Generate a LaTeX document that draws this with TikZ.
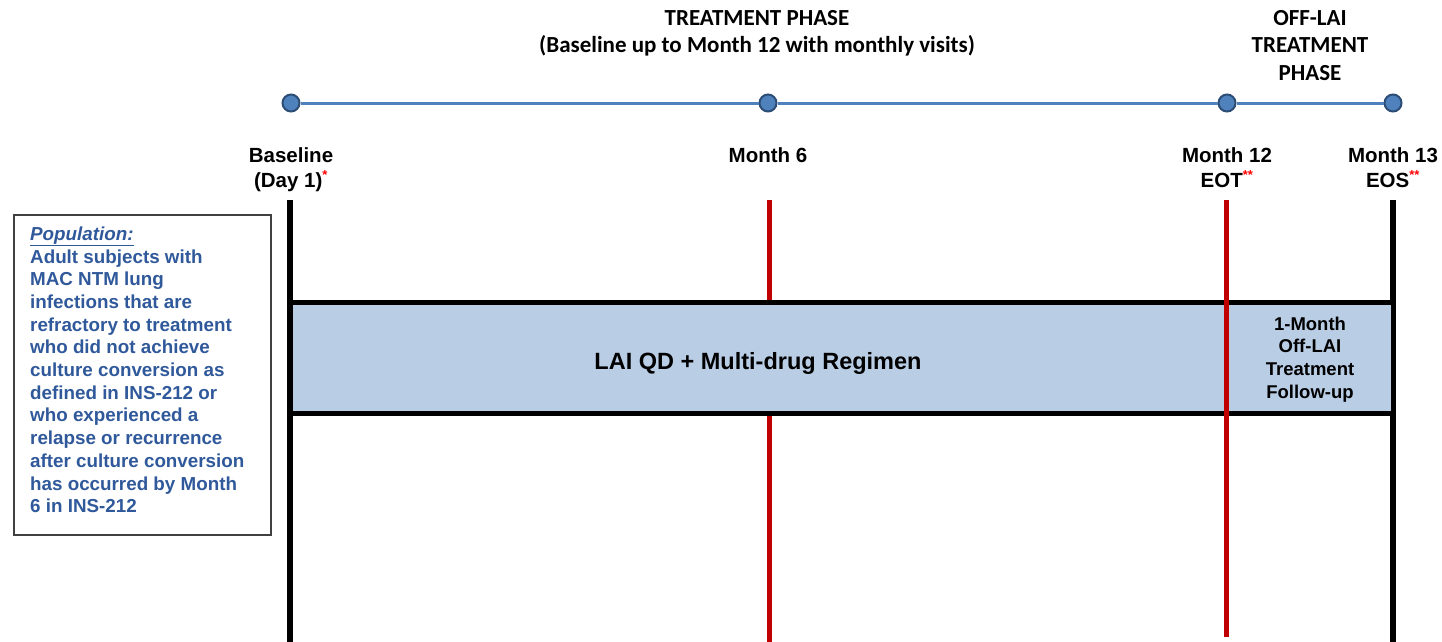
\documentclass[tikz,border=0pt]{standalone}
\usepackage{fontspec}
\setmainfont{Liberation Sans}
\newfontfamily\calibri{Carlito}
\usetikzlibrary{calc,positioning}
\definecolor{garisbiru}{HTML}{4F81BD}
\definecolor{tepibiru}{HTML}{2C4D75}
\definecolor{isibiru}{HTML}{B9CDE5}
\definecolor{teksbiru}{HTML}{30599B}
\definecolor{merah}{HTML}{C00000}
\newcommand{\bintang}[1]{\textsuperscript{\textcolor{red}{\fontsize{13}{13}\selectfont #1}}}
\newcommand{\tonggak}[3]
	{
	\draw[line width=#3,#2] (#1) -- ++(0,442);
	}

\begin{document}
\begin{tikzpicture}[x=1pt,y=-1pt,
	titik/.style={circle,draw=tepibiru,fill=garisbiru,line width=2pt,minimum size=17pt,inner sep=0pt},
	judul/.style={font=\calibri\bfseries\fontsize{23}{27.5}\selectfont,align=center,inner sep=0pt,anchor=north},
	waktu/.style={font=\bfseries\fontsize{20.5}{25}\selectfont,align=center,inner sep=0pt,anchor=north},
	isi/.style={font=\bfseries\fontsize{18.5}{22.7}\selectfont,align=center,inner sep=0pt,anchor=north}]

\useasboundingbox[fill=white] (0,0) rectangle (1442,642);

% judul fase
\node[judul] (fase) at (757,10) {TREATMENT PHASE\\(Baseline up to Month 12 with monthly visits)};
\node[judul] (faseoff) at (1310,10) {OFF-LAI\\TREATMENT\\PHASE};

% garis waktu
\node[titik] (tB) at (291,103) {};
\node[titik] (tM6) at (768,103) {};
\node[titik] (tM12) at (1227,103) {};
\node[titik] (tM13) at (1393,103) {};
\draw[garisbiru,line width=3pt] (tB) -- (tM6) -- (tM12) -- (tM13);

% nama kunjungan
\node[waktu] (nB) at (291,147) {Baseline\\(Day 1)\bintang{*}};
\node[waktu] (nM6) at (768,147) {Month 6};
\node[waktu] (nM12) at (1227,147) {Month 12\\EOT\bintang{**}};
\node[waktu] (nM13) at (1393,147) {Month 13\\EOS\bintang{**}};

% garis tegak
\coordinate (gB) at (290,200);
\coordinate (gM6) at (769,200);
\coordinate (gM12) at (1226,200);
\coordinate (gM13) at (1393,200);
\tonggak{gB}{black}{6pt}
\tonggak{gM6}{merah}{5pt}
\tonggak{gM13}{black}{6pt}

% pita pengobatan
\draw[line width=5pt,fill=isibiru] (290,302) rectangle (1393,413);
\draw[merah,line width=5pt] (gM12) -- ++(0,437);
\node[font=\bfseries\fontsize{23.5}{28}\selectfont,anchor=base] (rejimen) at (758,369) {LAI QD + Multi-drug Regimen};
\node[isi] (ikutan) at (1310,316.5) {1-Month\\Off-LAI\\Treatment\\Follow-up};

% kotak populasi
\node[draw=black!75,line width=2pt,minimum width=257,minimum height=320,anchor=north west,inner sep=0pt] (kotakpop) at (13,214) {};
\node[font=\bfseries\fontsize{18.8}{22.7}\selectfont,text=teksbiru,align=left,anchor=north west,inner sep=0pt] (populasi) at ($(kotakpop.north west)+(17,12.5)$)
	{\textit{\underline{Population:}}\\Adult subjects with\\MAC NTM lung\\infections that are\\refractory to treatment\\who did not achieve\\culture conversion as\\defined in INS-212 or\\who experienced a\\relapse or recurrence\\after culture conversion\\has occurred by Month\\6 in INS-212};

\end{tikzpicture}
\end{document}
